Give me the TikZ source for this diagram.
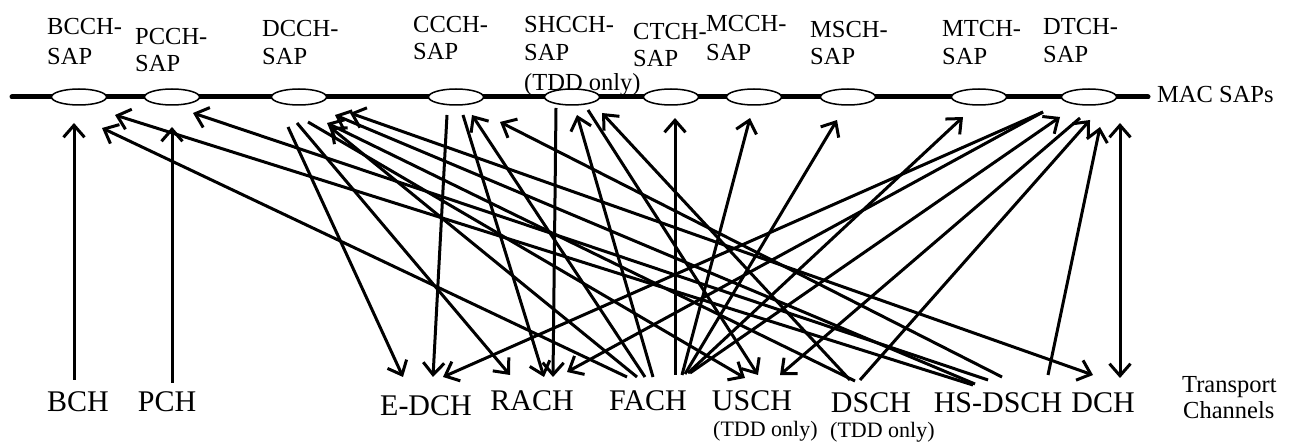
\documentclass[tikz,border=0pt]{standalone}
\usepackage{fontspec}
\setmainfont{Liberation Serif}
\usetikzlibrary{arrows.meta,shapes.geometric}
\begin{document}
\begin{tikzpicture}[x=1pt,y=-1pt,
  sap/.style={ellipse,draw,fill=white,line width=1.5pt,minimum width=55pt,minimum height=16pt,inner sep=0pt},
  toplbl/.style={anchor=base west,inner sep=0pt,font=\fontsize{24.5}{29}\selectfont},
  chan/.style={anchor=base,inner sep=0pt,font=\fontsize{30}{36}\selectfont},
  note/.style={anchor=base west,inner sep=0pt,font=\fontsize{22}{26}\selectfont},
  conn/.style={line width=3pt},
  arr/.style={conn,-{Straight Barb[length=12pt,width=21pt]}},
  biarr/.style={conn,{Straight Barb[length=12pt,width=21pt]}-{Straight Barb[length=12pt,width=21pt]}},
]
\useasboundingbox (0,0) rectangle (1291,446);

% MAC SAP line
\coordinate (lineL) at (12,97);
\coordinate (lineR) at (1148,97);
\draw[line width=5pt,line cap=round] (lineL) -- (lineR);
\node[toplbl] (macsaps) at (1157,103) {MAC SAPs};

% SAPs
\node[sap] (bcch)  at (79,97) {};
\node[sap] (pcch)  at (172,97) {};
\node[sap] (dcch)  at (299,97) {};
\node[sap] (ccch)  at (456,97) {};
\node[sap] (shcch) at (572,97) {};
\node[sap] (ctch)  at (671,97) {};
\node[sap] (mcch)  at (754,97) {};
\node[sap] (msch)  at (848,97) {};
\node[sap] (mtch)  at (979,97) {};
\node[sap] (dtch)  at (1089,97) {};

% SAP labels
\node[toplbl] (lb1a) at (47,35) {BCCH-};
\node[toplbl] (lb1b) at (47,65) {SAP};
\node[toplbl] (lb2a) at (135,45) {PCCH-};
\node[toplbl] (lb2b) at (135,72) {SAP};
\node[toplbl] (lb3a) at (262,37) {DCCH-};
\node[toplbl] (lb3b) at (262,65) {SAP};
\node[toplbl] (lb4a) at (413,33) {CCCH-};
\node[toplbl] (lb4b) at (413,60) {SAP};
\node[toplbl] (lb5a) at (524,33) {SHCCH-};
\node[toplbl] (lb5b) at (524,61) {SAP};
\node[toplbl] (lb5c) at (524,91) {(TDD only)};
\node[toplbl] (lb6a) at (633,40) {CTCH-};
\node[toplbl] (lb6b) at (633,67) {SAP};
\node[toplbl] (lb7a) at (706,32) {MCCH-};
\node[toplbl] (lb7b) at (706,61) {SAP};
\node[toplbl] (lb8a) at (810,38) {MSCH-};
\node[toplbl] (lb8b) at (810,65) {SAP};
\node[toplbl] (lb9a) at (942,37) {MTCH-};
\node[toplbl] (lb9b) at (942,65) {SAP};
\node[toplbl] (lb10a) at (1043,35) {DTCH-};
\node[toplbl] (lb10b) at (1043,63) {SAP};

% Transport channels
\node[chan] (bch)    at (78,411) {BCH};
\node[chan] (pch)    at (167,411) {PCH};
\node[chan] (edch)   at (426,415) {E-DCH};
\node[chan] (rach)   at (532,410) {RACH};
\node[chan] (fach)   at (648,410) {FACH};
\node[chan] (usch)   at (752,410) {USCH};
\node[chan] (dsch)   at (871,412) {DSCH};
\node[chan] (hsdsch) at (998,412) {HS-DSCH};
\node[chan] (dch)    at (1103,412) {DCH};
\node[note] (tdd1) at (713,436) {(TDD only)};
\node[note] (tdd2) at (830,437) {(TDD only)};
\node[toplbl] (tc1) at (1182,392) {Transport};
\node[toplbl] (tc2) at (1183,418) {Channels};

% BCCH
\draw[arr] ([shift={(-4,-31)}]bch.base) -- ([shift={(-5,26)}]bcch.center);
\draw[arr] ([shift={(-21,-33)}]fach.base) -- ([shift={(23,31)}]bcch.center);
\draw[arr] ([shift={(-25,-27)}]hsdsch.base) -- ([shift={(36,18)}]bcch.center);
% PCCH
\draw[arr] ([shift={(5,-28)}]pch.base) -- ([shift={(0,30)}]pcch.center);
\draw[arr] ([shift={(-10,-32)}]hsdsch.base) -- ([shift={(21,16)}]pcch.center);
% DCCH
\draw[arr] ([shift={(-11,30)}]dcch.center) -- ([shift={(-23,-38)}]edch.base);
\draw[arr] ([shift={(-2,26)}]dcch.center) -- ([shift={(-22,-35)}]rach.base);
\draw[arr] ([shift={(9,25)}]dcch.center) -- ([shift={(-7,-32)}]usch.base);
\draw[arr] ([shift={(-11,-33)}]fach.base) -- ([shift={(31,30)}]dcch.center);
\draw[arr] ([shift={(-16,-31)}]dsch.base) -- ([shift={(28,26)}]dcch.center);
\draw[arr] ([shift={(-23,-28)}]hsdsch.base) -- ([shift={(36,18)}]dcch.center);
\draw[biarr] ([shift={(51,16)}]dcch.center) -- ([shift={(-10,-37)}]dch.base);
% CCCH
\draw[arr] ([shift={(-9,18)}]ccch.center) -- ([shift={(7,-38)}]edch.base);
\draw[arr] ([shift={(7,18)}]ccch.center) -- ([shift={(12,-33)}]rach.base);
\draw[arr] ([shift={(-3,-33)}]fach.base) -- ([shift={(16,18)}]ccch.center);
\draw[arr] ([shift={(4,-35)}]hsdsch.base) -- ([shift={(44,25)}]ccch.center);
% SHCCH
\draw[arr] ([shift={(-16,11)}]shcch.center) -- ([shift={(21,-33)}]rach.base);
\draw[arr] ([shift={(5,-33)}]fach.base) -- ([shift={(5,18)}]shcch.center);
\draw[arr] ([shift={(16,13)}]shcch.center) -- ([shift={(6,-35)}]usch.base);
\draw[arr] ([shift={(-21,-32)}]dsch.base) -- ([shift={(30,16)}]shcch.center);
% CTCH, MCCH, MSCH, MTCH
\draw[arr] ([shift={(27,-35)}]fach.base) -- ([shift={(4,21)}]ctch.center);
\draw[arr] ([shift={(34,-35)}]fach.base) -- ([shift={(-4,21)}]mcch.center);
\draw[arr] ([shift={(37,-36)}]fach.base) -- ([shift={(-11,23)}]msch.center);
\draw[arr] ([shift={(40,-37)}]fach.base) -- ([shift={(-16,20)}]mtch.center);
% DTCH
\draw[arr] ([shift={(42,-37)}]fach.base) -- ([shift={(-29,20)}]dtch.center);
\draw[arr] ([shift={(-46,15)}]dtch.center) -- ([shift={(17,-38)}]edch.base);
\draw[arr] ([shift={(-46,15)}]dtch.center) -- ([shift={(35,-38)}]rach.base);
\draw[arr] ([shift={(-9,21)}]dtch.center) -- ([shift={(28,-35)}]usch.base);
\draw[arr] ([shift={(-11,-32)}]dsch.base) -- ([shift={(1,23)}]dtch.center);
\draw[arr] ([shift={(50,-37)}]hsdsch.base) -- ([shift={(11,30)}]dtch.center);
\draw[biarr] ([shift={(17,-34)}]dch.base) -- ([shift={(31,26)}]dtch.center);
\end{tikzpicture}
\end{document}
